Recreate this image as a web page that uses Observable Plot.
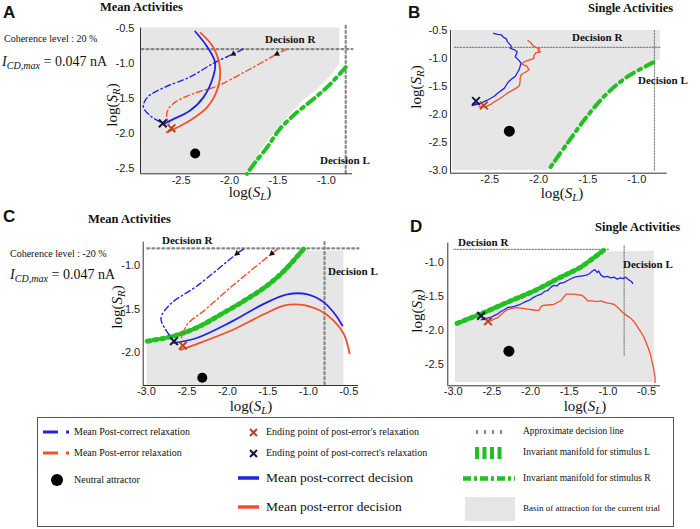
<!DOCTYPE html>
<html><head><meta charset="utf-8">
<script src="https://cdn.jsdelivr.net/npm/d3@7"></script>
<script src="https://cdn.jsdelivr.net/npm/@observablehq/plot@0.6"></script>
<style>
html,body{margin:0;padding:0;background:#fff;}
#fig{position:relative;width:700px;height:529px;overflow:hidden;font-family:"Liberation Serif","Times New Roman","DejaVu Serif",serif;color:#111;}
#fig div{font-family:"Liberation Serif","Times New Roman","DejaVu Serif",serif;}
#fig div.sans{font-family:"Liberation Sans",Arial,sans-serif;}
.t{position:absolute;white-space:nowrap;transform:translateY(-50%);line-height:1;}
.rot{position:absolute;white-space:nowrap;transform:translate(-50%,-50%) rotate(-90deg);line-height:1;}
.ctr{position:absolute;white-space:nowrap;transform:translate(-50%,-50%);line-height:1;}
.sw{position:absolute;overflow:visible;}
sub{font-size:0.72em;vertical-align:-0.3em;line-height:0;}
</style></head><body><div id="fig"></div>
<script>
// ---------------- colours ----------------
const BLUE = "#1f25e6", RED = "#f2502a", GREEN = "#22c022", GRAY = "#e6e6e6", DOT = "#888888";
const XBLUE = "#141440", XRED = "#b3461c";

// ---------------- tick values ----------------
const ticksAx = [-2.5, -2.0, -1.5, -1.0];
const ticksAy = [-0.5, -1.0, -1.5, -2.0, -2.5];
const ticksBx = [-2.5, -2.0, -1.5, -1.0];
const ticksBy = [-0.5, -1.0, -1.5, -2.0, -2.5, -3.0];
const ticksCx = [-3.0, -2.5, -2.0, -1.5, -1.0, -0.5];
const ticksCy = [-1.0, -1.5, -2.0];
const ticksDx = [-3.0, -2.5, -2.0, -1.5, -1.0, -0.5];
const ticksDy = [-1.0, -1.5, -2.0, -2.5];

// ---------------- panel A (mean, coherence 20%) ----------------
const aBasin = [[-2.91,-2.58,-0.5],[-1.83,-2.58,-0.5],[-1.82,-2.56,-0.5],[-1.75,-2.44,-0.5],[-1.65,-2.20,-0.5],[-1.51,-1.96,-0.5],[-1.37,-1.73,-0.5],[-1.24,-1.54,-0.5],[-1.10,-1.39,-0.5],[-0.96,-1.20,-0.5],[-0.86,-1.01,-0.5]];
const aDecisionR = [[-2.91,-0.8],[-0.73,-0.8]];
const aDecisionL = [[-0.80,-0.47],[-0.80,-2.58]];
const aManifoldR = [[-0.80,-1.06],[-0.96,-1.30],[-1.13,-1.51],[-1.30,-1.70],[-1.48,-1.94],[-1.61,-2.20],[-1.72,-2.39],[-1.80,-2.54],[-1.82,-2.58]];
const aMeanCorrect = [[-2.68,-1.87],[-2.58,-1.80],[-2.41,-1.68],[-2.27,-1.49],[-2.17,-1.20],[-2.15,-0.99],[-2.23,-0.77],[-2.355,-0.55]];
const aMeanError = [[-2.65,-1.99],[-2.54,-1.92],[-2.41,-1.82],[-2.23,-1.63],[-2.12,-1.35],[-2.10,-1.06],[-2.17,-0.77],[-2.30,-0.57]];
const aRelaxCorrect = [[-1.86,-0.80],[-1.96,-0.87],[-2.15,-0.99],[-2.41,-1.20],[-2.68,-1.35],[-2.85,-1.49],[-2.89,-1.63],[-2.82,-1.75],[-2.69,-1.86]];
const aRelaxError = [[-1.41,-0.80],[-1.51,-0.87],[-1.82,-1.11],[-2.13,-1.33],[-2.34,-1.42],[-2.54,-1.54],[-2.63,-1.65],[-2.65,-1.77],[-2.62,-1.86]];
const aArrows = [[-1.96,-0.87],[-1.51,-0.87]];
const aEndCorrect = [[-2.69,-1.86]];
const aEndError = [[-2.60,-1.93]];
const aNeutral = [[-2.355,-2.29]];

// ---------------- panel B (single, coherence 20%) ----------------
const bBasin = [[-2.88,-3.0,-0.5],[-1.90,-3.0,-0.5],[-1.88,-2.94,-0.5],[-1.71,-2.52,-0.5],[-1.54,-2.11,-0.5],[-1.34,-1.69,-0.5],[-1.10,-1.33,-0.5],[-0.83,-1.07,-0.5],[-0.76,-1.02,-0.5]];
const bDecisionR = [[-2.86,-0.8],[-0.76,-0.8]];
const bDecisionL = [[-0.82,-0.5],[-0.82,-3.0]];
const bManifoldR = [[-0.83,-1.07],[-1.10,-1.33],[-1.34,-1.69],[-1.54,-2.11],[-1.71,-2.52],[-1.88,-2.94]];
const bSingleCorrect = [[-2.46,-0.55],[-2.42,-0.57],[-2.38,-0.58],[-2.36,-0.62],[-2.33,-0.65],[-2.32,-0.70],[-2.30,-0.74],[-2.28,-0.78],[-2.29,-0.82],[-2.25,-0.84],[-2.22,-0.88],[-2.23,-0.93],[-2.24,-0.97],[-2.21,-1.02],[-2.18,-1.08],[-2.19,-1.14],[-2.20,-1.20],[-2.22,-1.26],[-2.24,-1.32],[-2.28,-1.37],[-2.31,-1.42],[-2.33,-1.47],[-2.35,-1.53],[-2.38,-1.57],[-2.42,-1.62],[-2.45,-1.67],[-2.49,-1.71],[-2.53,-1.75],[-2.57,-1.78],[-2.61,-1.81],[-2.65,-1.83],[-2.68,-1.84],[-2.66,-1.82],[-2.63,-1.80]];
const bSingleError = [[-2.11,-0.68],[-2.08,-0.72],[-2.06,-0.77],[-2.03,-0.80],[-1.99,-0.83],[-2.01,-0.86],[-1.98,-0.88],[-2.03,-0.90],[-2.05,-0.95],[-2.05,-1.00],[-2.10,-1.03],[-2.15,-1.06],[-2.17,-1.10],[-2.12,-1.14],[-2.10,-1.20],[-2.14,-1.25],[-2.18,-1.29],[-2.19,-1.35],[-2.19,-1.42],[-2.20,-1.49],[-2.23,-1.53],[-2.27,-1.57],[-2.32,-1.62],[-2.36,-1.67],[-2.40,-1.72],[-2.45,-1.77],[-2.49,-1.82],[-2.54,-1.86],[-2.58,-1.87],[-2.61,-1.86],[-2.57,-1.85]];
const bEndCorrect = [[-2.64,-1.76]];
const bEndError = [[-2.56,-1.84]];
const bNeutral = [[-2.30,-2.30]];

// ---------------- panel C (mean, coherence -20%) ----------------
const cBasin = [[-2.99,-2.38,-1.91],[-2.66,-2.38,-1.85],[-2.37,-2.38,-1.75],[-2.04,-2.38,-1.58],[-1.75,-2.38,-1.42],[-1.51,-2.38,-1.27],[-1.30,-2.38,-1.10],[-1.04,-2.38,-0.83],[-0.56,-2.38,-0.83]];
const cDecisionR = [[-2.99,-0.8],[-0.38,-0.8]];
const cDecisionL = [[-0.80,-0.73],[-0.80,-2.38]];
const cManifoldL = [[-2.99,-1.87],[-2.66,-1.81],[-2.37,-1.71],[-2.04,-1.54],[-1.75,-1.38],[-1.51,-1.23],[-1.30,-1.06],[-1.06,-0.81]];
const cMeanCorrect = [[-2.66,-1.89],[-2.37,-1.83],[-1.96,-1.65],[-1.55,-1.44],[-1.26,-1.33],[-1.01,-1.33],[-0.81,-1.42],[-0.67,-1.56],[-0.58,-1.69]];
const cMeanError = [[-2.58,-1.97],[-2.37,-1.90],[-1.96,-1.75],[-1.55,-1.56],[-1.30,-1.46],[-1.10,-1.45],[-0.85,-1.52],[-0.69,-1.63],[-0.56,-1.79],[-0.49,-2.01]];
const cRelaxCorrect = [[-1.80,-0.81],[-1.88,-0.86],[-2.37,-1.23],[-2.70,-1.44],[-2.82,-1.60],[-2.78,-1.71],[-2.66,-1.87]];
const cRelaxError = [[-1.38,-0.81],[-1.45,-0.86],[-1.96,-1.25],[-2.29,-1.52],[-2.49,-1.67],[-2.58,-1.86]];
const cArrows = [[-1.88,-0.86],[-1.45,-0.86]];
const cEndCorrect = [[-2.66,-1.87]];
const cEndError = [[-2.55,-1.92]];
const cNeutral = [[-2.31,-2.29]];

// ---------------- panel D (single, coherence -20%) ----------------
const dBasin = [[-2.97,-2.76,-1.93],[-2.60,-2.76,-1.77],[-2.30,-2.76,-1.62],[-1.95,-2.76,-1.45],[-1.61,-2.76,-1.25],[-1.35,-2.76,-1.10],[-1.03,-2.76,-0.84],[-0.40,-2.76,-0.83]];
const dDecisionR = [[-2.99,-0.8],[-0.98,-0.8]];
const dDecisionL = [[-0.79,-0.75],[-0.79,-2.37]];
const dManifoldL = [[-2.95,-1.89],[-2.60,-1.73],[-2.30,-1.58],[-1.95,-1.41],[-1.61,-1.21],[-1.35,-1.06],[-1.03,-0.79]];
const dSingleCorrect = [[-2.64,-1.84],[-2.58,-1.82],[-2.51,-1.80],[-2.46,-1.77],[-2.42,-1.75],[-2.39,-1.72],[-2.34,-1.69],[-2.30,-1.66],[-2.26,-1.65],[-2.21,-1.64],[-2.15,-1.62],[-2.10,-1.59],[-2.04,-1.56],[-2.00,-1.54],[-1.95,-1.50],[-1.91,-1.48],[-1.86,-1.46],[-1.82,-1.42],[-1.78,-1.41],[-1.74,-1.36],[-1.70,-1.33],[-1.66,-1.34],[-1.62,-1.30],[-1.57,-1.29],[-1.52,-1.26],[-1.47,-1.23],[-1.43,-1.21],[-1.38,-1.20],[-1.33,-1.19],[-1.28,-1.18],[-1.24,-1.16],[-1.20,-1.12],[-1.17,-1.10],[-1.14,-1.14],[-1.12,-1.12],[-1.09,-1.18],[-1.05,-1.21],[-1.01,-1.20],[-0.96,-1.22],[-0.92,-1.21],[-0.88,-1.24],[-0.84,-1.22],[-0.80,-1.23],[-0.77,-1.21],[-0.73,-1.25],[-0.70,-1.27],[-0.68,-1.30]];
const dSingleError = [[-2.58,-1.90],[-2.55,-1.86],[-2.51,-1.85],[-2.46,-1.82],[-2.43,-1.81],[-2.38,-1.76],[-2.34,-1.72],[-2.30,-1.69],[-2.24,-1.67],[-2.17,-1.66],[-2.10,-1.67],[-2.04,-1.68],[-1.98,-1.69],[-1.93,-1.70],[-1.89,-1.70],[-1.87,-1.65],[-1.85,-1.63],[-1.78,-1.62],[-1.70,-1.61],[-1.65,-1.58],[-1.61,-1.56],[-1.57,-1.50],[-1.54,-1.46],[-1.49,-1.46],[-1.44,-1.46],[-1.38,-1.47],[-1.33,-1.48],[-1.29,-1.52],[-1.26,-1.56],[-1.20,-1.56],[-1.14,-1.57],[-1.09,-1.56],[-1.02,-1.59],[-0.96,-1.60],[-0.92,-1.61],[-0.86,-1.67],[-0.81,-1.73],[-0.75,-1.78],[-0.70,-1.82],[-0.66,-1.87],[-0.62,-1.94],[-0.58,-2.01],[-0.54,-2.08],[-0.51,-2.16],[-0.48,-2.25],[-0.45,-2.35],[-0.43,-2.45],[-0.41,-2.55],[-0.40,-2.62],[-0.39,-2.70],[-0.39,-2.76]];
const dEndCorrect = [[-2.64,-1.78]];
const dEndError = [[-2.55,-1.86]];
const dNeutral = [[-2.28,-2.30]];

// ---------------- build ----------------
const fig = document.getElementById("fig");
const X = d => d[0], Y = d => d[1];
const fmt = d => d.toFixed(1);

function panel(c) {
  const marks = [
    Plot.areaY(c.basin, {x: X, y1: d => d[1], y2: d => d[2], fill: GRAY}),
    Plot.line(c.decR, {x: X, y: Y, stroke: DOT, strokeWidth: c.dotW, strokeDasharray: c.dotDash}),
    Plot.line(c.decL, {x: X, y: Y, stroke: DOT, strokeWidth: c.dotW, strokeDasharray: c.dotDash}),
    Plot.ruleX([c.xd[0]], {y1: c.yd[0], y2: c.yd[1], stroke: "#333", strokeWidth: 1}),
    Plot.ruleY([c.yd[0]], {x1: c.xd[0], x2: c.xd[1], stroke: "#333", strokeWidth: 1})
  ];
  if (c.manR) marks.push(Plot.line(c.manR, {x: X, y: Y, stroke: GREEN, strokeWidth: 4, strokeDasharray: "9,5,3,5", curve: "catmull-rom"}));
  if (c.manL) marks.push(Plot.line(c.manL, {x: X, y: Y, stroke: GREEN, strokeWidth: 5, strokeDasharray: "3,4", curve: "catmull-rom"}));
  if (c.relaxC) marks.push(Plot.line(c.relaxC, {x: X, y: Y, stroke: BLUE, strokeWidth: 1.4, strokeDasharray: "6,3,1.5,3", curve: "catmull-rom"}));
  if (c.relaxE) marks.push(Plot.line(c.relaxE, {x: X, y: Y, stroke: RED, strokeWidth: 1.4, strokeDasharray: "6,3,1.5,3", curve: "catmull-rom"}));
  if (c.arrows) marks.push(Plot.dot(c.arrows, {x: X, y: Y, symbol: "triangle", r: 2.2, fill: "#111", rotate: c.arrowRot}));
  marks.push(Plot.line(c.lineE, {x: X, y: Y, stroke: RED, strokeWidth: c.lw, curve: c.curve}));
  marks.push(Plot.line(c.lineC, {x: X, y: Y, stroke: BLUE, strokeWidth: c.lw, curve: c.curve}));
  marks.push(Plot.dot(c.endE, {x: X, y: Y, symbol: "times", r: 3.6, stroke: XRED, strokeWidth: 2}));
  marks.push(Plot.dot(c.endC, {x: X, y: Y, symbol: "times", r: 3.6, stroke: XBLUE, strokeWidth: 2}));
  marks.push(Plot.dot(c.neutral, {x: X, y: Y, r: c.nr, fill: "#000"}));
  const svg = Plot.plot({
    width: c.w, height: c.h,
    marginLeft: c.ml, marginRight: c.mr, marginTop: c.mt, marginBottom: c.mb,
    x: {domain: c.xd, ticks: c.xt, tickSize: 0, tickPadding: c.xpad, tickFormat: fmt, label: null},
    y: {domain: c.yd, ticks: c.yt, tickSize: 0, tickPadding: c.ypad, tickFormat: fmt, label: null},
    style: {fontFamily: "Liberation Sans, Arial, sans-serif", fontSize: "11px", color: "#222", background: "transparent", overflow: "visible"},
    marks
  });
  svg.style.position = "absolute";
  svg.style.left = c.left + "px";
  svg.style.top = c.top + "px";
  svg.style.maxWidth = "none";
  fig.appendChild(svg);
}

panel({left: 0, top: 0, w: 360, h: 200, ml: 140, mr: 8, mt: 27.5, mb: 26.7,
  xd: [-2.92, -0.73], yd: [-2.58, -0.5], xt: ticksAx, yt: ticksAy, xpad: 2, ypad: 6,
  basin: aBasin, decR: aDecisionR, decL: aDecisionL, dotW: 2.2, dotDash: "2,3",
  manR: aManifoldR, relaxC: aRelaxCorrect, relaxE: aRelaxError, arrows: aArrows, arrowRot: 243,
  lineC: aMeanCorrect, lineE: aMeanError, lw: 1.8, curve: "catmull-rom",
  endC: aEndCorrect, endE: aEndError, neutral: aNeutral, nr: 5});

panel({left: 360, top: 0, w: 340, h: 200, ml: 90, mr: 33.3, mt: 30, mb: 27.3,
  xd: [-2.90, -0.69], yd: [-3.05, -0.5], xt: ticksBx, yt: ticksBy, xpad: 2, ypad: 3,
  basin: bBasin, decR: bDecisionR, decL: bDecisionL, dotW: 1.2, dotDash: "1.5,1.5",
  manR: bManifoldR,
  lineC: bSingleCorrect, lineE: bSingleError, lw: 1.3, curve: "linear",
  endC: bEndCorrect, endE: bEndError, neutral: bNeutral, nr: 5.5});

panel({left: 0, top: 200, w: 360, h: 200, ml: 142.7, mr: 2, mt: 41.7, mb: 15,
  xd: [-3.04, -0.38], yd: [-2.38, -0.73], xt: ticksCx, yt: ticksCy, xpad: 2, ypad: 3,
  basin: cBasin, decR: cDecisionR, decL: cDecisionL, dotW: 2.2, dotDash: "2,3",
  manL: cManifoldL, relaxC: cRelaxCorrect, relaxE: cRelaxError, arrows: cArrows, arrowRot: 230,
  lineC: cMeanCorrect, lineE: cMeanError, lw: 1.8, curve: "catmull-rom",
  endC: cEndCorrect, endE: cEndError, neutral: cNeutral, nr: 5});

panel({left: 360, top: 200, w: 340, h: 200, ml: 87.3, mr: 40, mt: 42.7, mb: 14.7,
  xd: [-3.07, -0.32], yd: [-2.81, -0.71], xt: ticksDx, yt: ticksDy, xpad: 1, ypad: 4,
  basin: dBasin, decR: dDecisionR, decL: dDecisionL, dotW: 1.2, dotDash: "1.5,1.5",
  manL: dManifoldL,
  lineC: dSingleCorrect, lineE: dSingleError, lw: 1.3, curve: "linear",
  endC: dEndCorrect, endE: dEndError, neutral: dNeutral, nr: 5.5});

// ---------------- text ----------------
function txt(html, x, y, css, cls) {
  const d = document.createElement("div");
  d.className = cls || "t";
  d.innerHTML = html;
  d.style.left = x + "px";
  d.style.top = y + "px";
  if (css) d.style.cssText += css;
  fig.appendChild(d);
}
const letter = "font-weight:bold;font-size:17px;";
const title = "font-weight:bold;font-size:12.5px;";
const dec = "font-weight:bold;font-size:11px;";
const ax = "font-size:15px;";
const logSL = "log(<i>S</i><sub><i>L</i></sub>)";
const logSR = "log(<i>S</i><sub><i>R</i></sub>)";
const icd = "<i>I</i><sub><i>CD,max</i></sub> = 0.047 nA";

txt("A", 3, 12, letter, "t sans");
txt("Mean Activities", 100, 7, title);
txt("Coherence level : 20 %", 4, 39, "font-size:10px;");
txt(icd, 2, 62, "font-size:14px;");
txt("Decision R", 265, 39, dec);
txt("Decision L", 320, 160, dec);
txt(logSR, 112, 105, ax, "rot");
txt(logSL, 250, 192, ax, "ctr");

txt("B", 408, 12, letter, "t sans");
txt("Single Activities", 588, 8, title);
txt("Decision R", 572, 37, dec);
txt("Decision L", 638, 80, dec);
txt(logSR, 416, 87, ax, "rot");
txt(logSL, 562, 193, ax, "ctr");

txt("C", 3, 216, letter, "t sans");
txt("Mean Activities", 88, 219, title);
txt("Coherence level : -20 %", 10, 254, "font-size:10px;");
txt(icd, 10, 275, "font-size:14px;");
txt("Decision R", 162, 240, dec);
txt("Decision L", 328, 271, dec);
txt(logSR, 117, 307, ax, "rot");
txt(logSL, 251, 406, ax, "ctr");

txt("D", 410, 226, letter, "t sans");
txt("Single Activities", 595, 227, title);
txt("Decision R", 458, 242, dec);
txt("Decision L", 623, 264, dec);
txt(logSR, 417, 311, ax, "rot");
txt(logSL, 585, 406, ax, "ctr");

// ---------------- legend ----------------
const box = document.createElement("div");
box.style.cssText = "position:absolute;left:37px;top:417px;width:637px;height:110px;border:1px solid #555;box-sizing:border-box;";
fig.appendChild(box);
function sw(inner, x, y, w, h) {
  const ns = "http://www.w3.org/2000/svg";
  const s = document.createElementNS(ns, "svg");
  s.setAttribute("width", w); s.setAttribute("height", h);
  s.setAttribute("class", "sw");
  s.style.left = x + "px"; s.style.top = y + "px";
  s.innerHTML = inner;
  fig.appendChild(s);
}
sw(`<line x1="0" x2="15" y1="4" y2="4" stroke="${BLUE}" stroke-width="3"/><rect x="23" y="2.5" width="3" height="3" fill="${BLUE}"/>`, 43, 428, 30, 8);
sw(`<line x1="0" x2="15" y1="4" y2="4" stroke="${RED}" stroke-width="3"/><rect x="23" y="2.5" width="3" height="3" fill="${RED}"/>`, 43, 449, 30, 8);
sw(`<circle cx="6" cy="6" r="6" fill="#000"/>`, 51, 474, 12, 12);
sw(`<path d="M1,1L8,8M8,1L1,8" stroke="${XRED}" stroke-width="2"/>`, 249, 428, 9, 9);
sw(`<path d="M1,1L8,8M8,1L1,8" stroke="${XBLUE}" stroke-width="2"/>`, 249, 449, 9, 9);
sw(`<line x1="0" x2="21" y1="2" y2="2" stroke="${BLUE}" stroke-width="3.5"/>`, 238, 476, 21, 4);
sw(`<line x1="0" x2="21" y1="2" y2="2" stroke="${RED}" stroke-width="3.5"/>`, 238, 505, 21, 4);
sw(`<line x1="0" x2="28" y1="2" y2="2" stroke="${DOT}" stroke-width="4" stroke-dasharray="2,6"/>`, 476, 430, 28, 4);
sw(`<line x1="0" x2="28" y1="6" y2="6" stroke="${GREEN}" stroke-width="12" stroke-dasharray="4,3.5"/>`, 475, 447, 28, 12);
sw(`<line x1="0" x2="52" y1="2.5" y2="2.5" stroke="${GREEN}" stroke-width="4.5" stroke-dasharray="8,3,3,3"/>`, 463, 476, 52, 5);
sw(`<rect x="0" y="0" width="50" height="24" fill="${GRAY}"/>`, 465, 497, 50, 24);

const small = "font-size:10px;";
txt("Mean Post-correct relaxation", 74, 432, small);
txt("Mean Post-error relaxation", 74, 453, small);
txt("Neutral attractor", 74, 480, small);
txt("Ending point of post-error's relaxation", 266, 432, small);
txt("Ending point of post-correct's relaxation", 266, 453, small);
txt("Mean post-correct decision", 266, 478, "font-size:13.5px;");
txt("Mean post-error decision", 266, 507, "font-size:13.5px;");
txt("Approximate decision line", 523, 432, "font-size:9.5px;");
txt("Invariant manifold for stimulus L", 523, 453, "font-size:9.5px;");
txt("Invariant manifold for stimulus R", 523, 479, "font-size:9.5px;");
txt("Basin of attraction for the current trial", 523, 508, "font-size:9px;");
</script></body></html>
